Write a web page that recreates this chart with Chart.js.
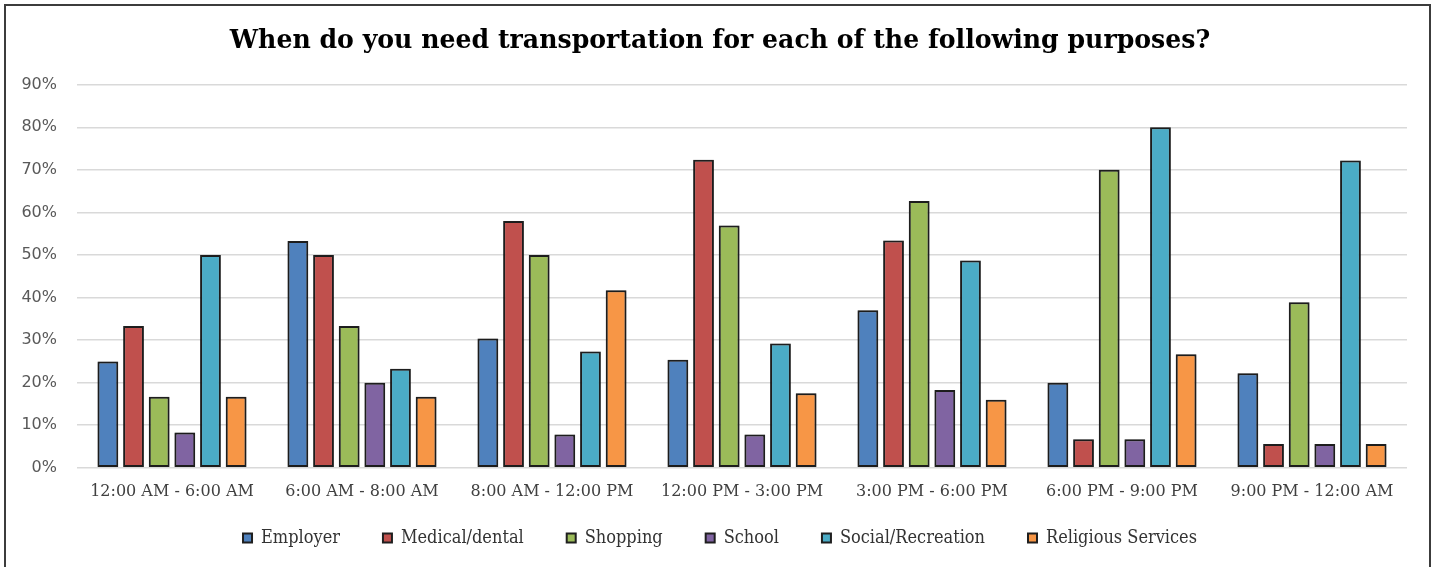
<!DOCTYPE html>
<html>
<head>
<meta charset="utf-8">
<script src="https://cdn.jsdelivr.net/npm/chart.js@4.4.0/dist/chart.umd.min.js"></script>
<style>
  html, body { margin: 0; padding: 0; background: #fff; }
  #wrap { position: relative; width: 1434px; height: 567px; }
</style>
</head>
<body>
<div id="wrap"><canvas id="chart"></canvas></div>
<script>
// Time windows and share of respondents (%) needing a ride for each purpose
const timeSlots = [
  '12:00 AM - 6:00 AM', '6:00 AM - 8:00 AM', '8:00 AM - 12:00 PM',
  '12:00 PM - 3:00 PM', '3:00 PM - 6:00 PM', '6:00 PM - 9:00 PM', '9:00 PM - 12:00 AM'
];
const employer  = [25.0, 53.3, 30.4, 25.4, 37.0, 20.0, 22.2];
const medical   = [33.3, 50.0, 58.0, 72.4, 53.4, 6.7, 5.6];
const shopping  = [16.7, 33.3, 50.0, 56.9, 62.7, 70.0, 38.9];
const school    = [8.3, 20.0, 7.8, 7.8, 18.3, 6.7, 5.6];
const social    = [50.0, 23.3, 27.3, 29.2, 48.7, 80.0, 72.2];
const religious = [16.7, 16.7, 41.7, 17.5, 16.0, 26.7, 5.6];

const yTicks = [0, 10, 20, 30, 40, 50, 60, 70, 80, 90];

const serif = "'DejaVu Serif', serif";

function series(label, data, color) {
  return {
    label, data,
    backgroundColor: color,
    borderColor: '#1f1f1f',
    borderWidth: 2,
    borderSkipped: false,
  };
}

// outer frame around the whole chart; title and legend are centred on the page,
// not on the plot, so nudge them after layout
const framePlugin = {
  id: 'frame',
  afterLayout(chart) {
    const lg = chart.legend, tb = chart.titleBlock;
    lg.left += 13; lg.right += 13;
    lg.top -= 21; lg.bottom -= 21;
    tb.left += 13; tb.right += 13;
  },
  afterDraw(chart) {
    const ctx = chart.ctx;
    ctx.save();
    ctx.strokeStyle = '#3c3c3c';
    ctx.lineWidth = 2;
    ctx.strokeRect(5, 5, 1425, 600);
    ctx.restore();
  }
};

// soft grey halo around the bars
const haloPlugin = {
  id: 'halo',
  beforeDatasetsDraw(chart) {
    const ctx = chart.ctx;
    ctx.save();
    ctx.shadowColor = 'rgba(0,0,0,0.3)';
    ctx.shadowBlur = 2;
  },
  afterDatasetsDraw(chart) {
    chart.ctx.restore();
  }
};

new Chart(document.getElementById('chart'), {
  type: 'bar',
  data: {
    labels: timeSlots,
    datasets: [
      series('Employer', employer, '#4f81bd'),
      series('Medical/dental', medical, '#c0504d'),
      series('Shopping', shopping, '#9bbb59'),
      series('School', school, '#8064a2'),
      series('Social/Recreation', social, '#4bacc6'),
      series('Religious Services', religious, '#f79646'),
    ],
  },
  options: {
    responsive: true,
    maintainAspectRatio: false,
    animation: false,
    datasets: {
      bar: { categoryPercentage: 0.81, barPercentage: 0.81 },
    },
    layout: { padding: { left: 7, right: 27, top: 0, bottom: -11 } },
    plugins: {
      title: {
        display: true,
        text: 'When do you need transportation for each of the following purposes?',
        color: '#000',
        font: { family: serif, size: 25.2, weight: 'bold' },
        padding: { top: 26, bottom: 28.5 },
      },
      legend: {
        position: 'bottom',
        labels: {
          color: '#333',
          font: { family: "'DejaVu Serif Condensed', 'DejaVu Serif', serif", size: 18 },
          boxWidth: 9,
          boxHeight: 9,
          padding: 43,
        },
      },
      tooltip: { enabled: false },
    },
    scales: {
      x: {
        grid: { display: false },
        border: { display: false },
        ticks: {
          color: '#404040',
          font: { family: serif, size: 16 },
          padding: 6,
          maxRotation: 0,
        },
      },
      y: {
        min: 0,
        max: 90,
        afterFit(scale) { scale.width = 70; },
        afterBuildTicks(scale) { scale.ticks = yTicks.map(v => ({ value: v })); },
        grid: { color: '#d9d9d9', lineWidth: 1.5, drawTicks: false },
        border: { display: false },
        ticks: {
          color: '#595959',
          font: { family: "'DejaVu Sans', sans-serif", size: 16 },
          padding: 20,
          callback: v => v + '%',
        },
      },
    },
  },
  plugins: [framePlugin, haloPlugin],
});
</script>
</body>
</html>
